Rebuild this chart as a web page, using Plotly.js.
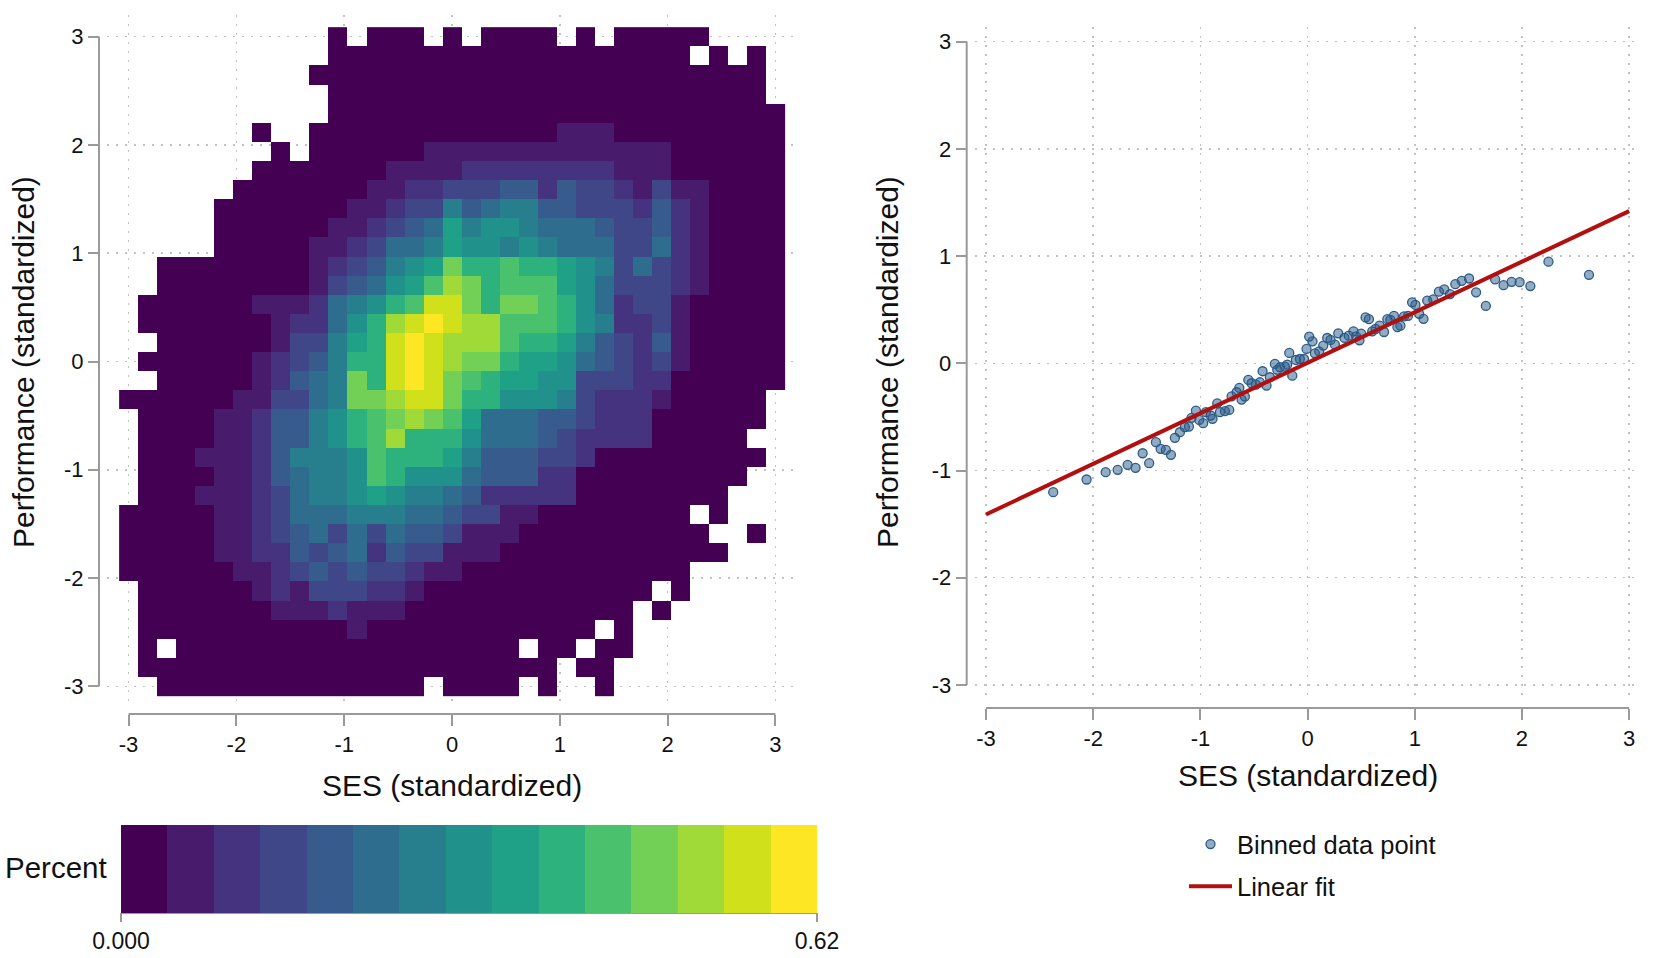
<!DOCTYPE html>
<html>
<head>
<meta charset="utf-8">
<script src="https://cdn.plot.ly/plotly-3.0.1.min.js"></script>
<style>
html,body{margin:0;padding:0;background:#ffffff;}
#chart{width:1654px;height:958px;}
</style>
</head>
<body>
<div id="chart"></div>
<script>
// ---------------- DATA ----------------
// Bin centres of the 35 x 35 SES / performance grid (standardized units)
const binCenters = [-2.999,-2.822,-2.646,-2.470,-2.293,-2.117,-1.940,-1.764,-1.588,-1.411,-1.235,-1.058,-0.882,-0.706,-0.529,-0.353,-0.176,0.000,
                    0.176,0.353,0.529,0.706,0.882,1.058,1.235,1.411,1.588,1.764,1.940,2.117,2.293,2.470,2.646,2.822,2.999];

// Percent bin read from each cell (rows from top = performance 3 to bottom = -3).
// '.' = empty cell, 0-9,a-e = colour class 0..14 of the 15-class legend (0 to 0.62 percent)
const heatRows = [
"...........0.000.0.0000.0.00000....",
"...........0000000000000000000.0.0.",
"..........000000000000000000000000.",
"...........00000000000000000000000.",
"...........000000000000000000000000",
".......0..0000000000000111000000000",
"........0.0000001111111111111000000",
".......0000000111122222222111000000",
"......00000001122333442433213110000",
".....000000011233645664433324210000",
".....000000112345867765554334210000",
".....000001123556877676555335210000",
"..000000001234678b99a99876353210000",
"..00000000134578acb9aaa875333210000",
".00000011125679addb9bba975233100000",
".0000000122579cdedccaaa976223100000",
"..000000133689dedccca99864324100000",
".0000001234699dedcbb988754323100000",
"..0000012456b9dedba9887733322000000",
"000000113356bbcddb9977763222100000.",
".000011244679abcba8555443222000000.",
".000011244679ac999755543222200000..",
".000111246667a99986444332000000000.",
".000011245667a9777544422000000000..",
".0001112356678766542222200000000...",
"000001123555666554331100000000.0...",
"0000011234535354431110000000000..0.",
"00000112243452433111000000000000...",
"000000112343433211000000000000.....",
".000000121333221000000000000.0.....",
".00000001112111000000000000.0......",
".000000000001000000000000.0........",
".0.000000000000000000.00.00........",
".0000000000000000000000.00.........",
"..00000000000000.0000.0..0........."
];
const levelChars = "0123456789abcde";
const percentMin = 0, percentMax = 0.62, nClasses = 15;
const percentTickVals = [0, 0.62];
const percentTickText = ["0.000", "0.62"];

// Binned scatter (SES, performance)
const sesBinned = [-2.373,-2.062,-1.884,-1.772,-1.679,-1.605,-1.539,-1.478,-1.415,-1.371,-1.322,-1.275,-1.238,-1.191,-1.145,-1.107,-1.083,-1.042,-1.011,-0.974,
  -0.949,-0.905,-0.887,-0.843,-0.818,-0.771,-0.731,-0.709,-0.662,-0.637,-0.616,-0.585,-0.553,-0.522,-0.482,-0.445,-0.420,-0.383,-0.352,-0.305,
  -0.283,-0.258,-0.212,-0.190,-0.171,-0.143,-0.109,-0.072,-0.034,-0.010,0.015,0.046,0.068,0.108,0.146,0.183,0.214,0.255,0.286,
  0.344,0.384,0.428,0.453,0.484,0.500,0.541,0.572,0.603,0.634,0.672,0.713,0.744,0.772,0.806,0.838,0.866,0.900,0.937,0.975,
  1.006,1.041,1.081,1.116,1.172,1.225,1.275,1.328,1.378,1.438,1.506,1.572,1.663,1.750,1.828,1.903,1.978,2.078,2.247,2.625];
const perfBinned = [-1.202,-1.084,-1.016,-0.994,-0.947,-0.975,-0.839,-0.932,-0.736,-0.798,-0.808,-0.854,-0.695,-0.643,-0.596,-0.590,-0.509,-0.441,-0.528,-0.559,
  -0.456,-0.487,-0.518,-0.373,-0.456,-0.447,-0.435,-0.308,-0.270,-0.230,-0.338,-0.310,-0.155,-0.186,-0.199,-0.177,-0.074,-0.208,-0.130,-0.006,
  -0.061,-0.037,-0.031,-0.012,0.097,-0.115,0.031,0.040,0.040,0.134,0.249,0.205,0.093,0.112,0.165,0.236,0.218,0.174,0.280,
  0.237,0.258,0.298,0.252,0.215,0.277,0.428,0.412,0.298,0.320,0.351,0.292,0.412,0.406,0.443,0.338,0.351,0.437,0.443,0.569,
  0.545,0.462,0.415,0.585,0.597,0.668,0.689,0.646,0.738,0.769,0.791,0.662,0.535,0.782,0.729,0.760,0.757,0.720,0.948,0.825];

// Linear fit end points
const fitSES = [-3, 3];
const fitPerf = [-1.41, 1.42];

// Axis ticks
const axisTickVals = [-3, -2, -1, 0, 1, 2, 3];
const axisTickText = ["-3", "-2", "-1", "0", "1", "2", "3"];

// ---------------- STYLE ----------------
const W = 1654, H = 958;
const FONT = "Liberation Sans, Arial, Helvetica, sans-serif";
const TXT = "#111111";
const AXC = "#9a9a9a";
const classColors = ["#440154","#481b6d","#46337f","#3f4788","#375b8d","#2e6d8e","#277f8e","#21918c",
                     "#1fa187","#2db17d","#4ac16d","#73d056","#a0da39","#d0e11c","#fde725"];

for (const r of heatRows) { if (r.length !== 35) throw new Error("bad row length " + r.length + " " + r); }

// percent value = centre of the colour class
const step = (percentMax - percentMin) / nClasses;
const zTopDown = heatRows.map(r => r.split("").map(ch => ch === "." ? null : percentMin + (levelChars.indexOf(ch) + 0.5) * step));
const zBottomUp = zTopDown.slice().reverse();

const colorscale = [];
classColors.forEach((c, i) => { colorscale.push([i / nClasses, c]); colorscale.push([(i + 1) / nClasses, c]); });

const px = v => v / W;
const py = v => 1 - v / H;

const heat = {
  type: "heatmap", x: binCenters, y: binCenters, z: zBottomUp,
  xaxis: "x", yaxis: "y", zmin: percentMin, zmax: percentMax, zsmooth: false,
  colorscale: colorscale, showscale: true, hoverongaps: false,
  colorbar: {
    orientation: "h", thickness: 88, thicknessmode: "pixels", len: 696, lenmode: "pixels",
    x: px(469), xanchor: "center", xref: "paper", y: py(825), yanchor: "top", yref: "paper",
    xpad: 0, ypad: 0, outlinewidth: 0, borderwidth: 0,
    tickvals: percentTickVals, ticktext: percentTickText, ticks: "outside", ticklen: 9, tickwidth: 2, tickcolor: AXC,
    tickfont: {size: 23, color: TXT, family: FONT}
  }
};

const pts = {
  type: "scatter", mode: "markers", x: sesBinned, y: perfBinned, xaxis: "x2", yaxis: "y2",
  name: "Binned data point", legendgroup: "a",
  marker: {size: 9, color: "rgba(40,90,138,0.5)", line: {color: "#2b5b88", width: 1.3}}
};
const fit = {
  type: "scatter", mode: "lines", x: fitSES, y: fitPerf, xaxis: "x2", yaxis: "y2",
  name: "Linear fit", legendgroup: "b",
  line: {color: "#b20f0f", width: 4}
};

function ax(extra) {
  return Object.assign({
    ticks: "outside", ticklen: 11, tickwidth: 2, tickcolor: AXC,
    showline: false, zeroline: false, showgrid: true, gridcolor: "#c2c2c2", gridwidth: 1.5, griddash: "2px,7px",
    tickmode: "array", tickvals: axisTickVals, ticktext: axisTickText,
    tickfont: {size: 22, color: TXT, family: FONT}, fixedrange: true, anchor: "free"
  }, extra);
}

const layout = {
  width: W, height: H, margin: {l: 0, r: 0, t: 0, b: 0, pad: 0},
  paper_bgcolor: "#ffffff", plot_bgcolor: "#ffffff",
  font: {family: FONT, color: TXT},
  showlegend: true,
  xaxis:  ax({domain: [px(107), px(797)], range: [-3.2, 3.2], position: py(714)}),
  yaxis:  ax({domain: [py(708), py(15)], range: [-3.2, 3.2], position: px(99)}),
  xaxis2: ax({domain: [px(975.3), px(1639.9)], range: [-3.1, 3.1], position: py(708)}),
  yaxis2: ax({domain: [py(699.9), py(26.7)], range: [-3.14, 3.14], position: px(966.7)}),
  legend: {x: px(1184), y: py(821), xanchor: "left", yanchor: "top", font: {size: 25.5, color: TXT, family: FONT},
           itemwidth: 43, bgcolor: "rgba(0,0,0,0)", borderwidth: 0, tracegroupgap: 6, traceorder: "grouped"},
  shapes: [
    {type: "line", xref: "paper", yref: "y", x0: px(99), x1: px(99), y0: -3, y1: 3, line: {color: AXC, width: 2}},
    {type: "line", xref: "x", yref: "paper", x0: -3, x1: 3, y0: py(714), y1: py(714), line: {color: AXC, width: 2}},
    {type: "line", xref: "paper", yref: "y2", x0: px(966.7), x1: px(966.7), y0: -3, y1: 3, line: {color: AXC, width: 2}},
    {type: "line", xref: "x2", yref: "paper", x0: -3, x1: 3, y0: py(708), y1: py(708), line: {color: AXC, width: 2}},
    {type: "line", xref: "paper", yref: "paper", x0: px(121), x1: px(817), y0: py(913), y1: py(913), line: {color: AXC, width: 2}}
  ],
  annotations: [
    {text: "SES (standardized)", xref: "paper", yref: "paper", x: px(452), y: py(785), xanchor: "center", yanchor: "middle", showarrow: false, font: {size: 30, color: TXT}},
    {text: "Performance (standardized)", xref: "paper", yref: "paper", x: px(23), y: py(362), xanchor: "center", yanchor: "middle", textangle: -90, showarrow: false, font: {size: 30, color: TXT}},
    {text: "SES (standardized)", xref: "paper", yref: "paper", x: px(1308), y: py(775), xanchor: "center", yanchor: "middle", showarrow: false, font: {size: 30, color: TXT}},
    {text: "Performance (standardized)", xref: "paper", yref: "paper", x: px(887), y: py(362), xanchor: "center", yanchor: "middle", textangle: -90, showarrow: false, font: {size: 30, color: TXT}},
    {text: "Percent", xref: "paper", yref: "paper", x: px(109), y: py(867), xanchor: "right", yanchor: "middle", showarrow: false, font: {size: 29.5, color: TXT}}
  ]
};

Plotly.newPlot("chart", [heat, pts, fit], layout, {displayModeBar: false, staticPlot: true});
</script>
</body>
</html>
